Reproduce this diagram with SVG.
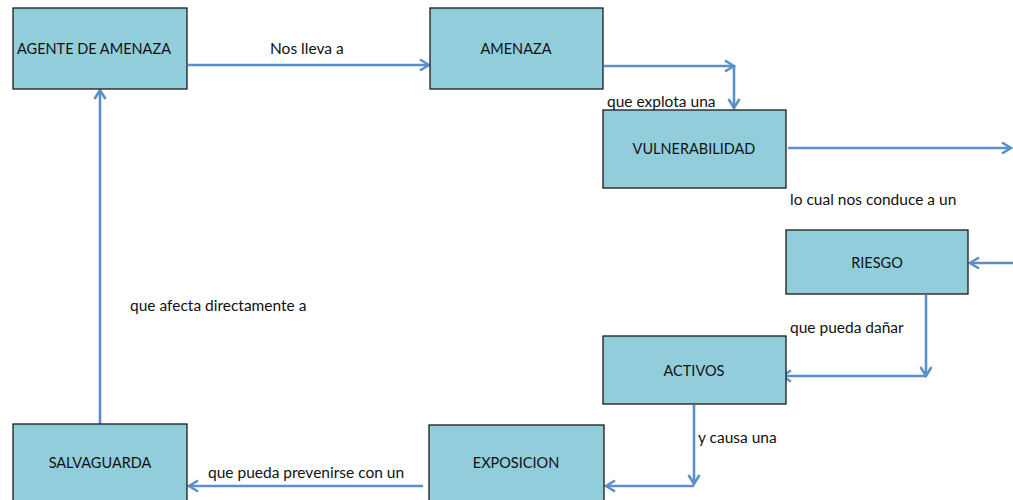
<svg xmlns="http://www.w3.org/2000/svg" width="1013" height="500" viewBox="0 0 1013 500">
<style>
.box{fill:#92CDDC;stroke:#1a1a1a;stroke-width:1.3}
.t{font-family:Lato,"Liberation Sans",sans-serif;font-size:14.5px;fill:#111;text-anchor:middle;dominant-baseline:central}
.l{font-family:Lato,"Liberation Sans",sans-serif;font-size:15.5px;fill:#111;dominant-baseline:central}
.c{fill:none;stroke:#5B8FC8;stroke-width:2.6}
</style>
<defs>
<marker id="a" viewBox="0 0 14 14" refX="12" refY="7" markerWidth="14" markerHeight="14" markerUnits="userSpaceOnUse" orient="auto">
<path d="M3,1.5 L12,7 L3,12.5" fill="none" stroke="#5B8FC8" stroke-width="2.5"/>
</marker>
</defs>
<rect width="1013" height="500" fill="#fff"/>
<g id="connectors">
<line class="c" x1="188" y1="65" x2="429" y2="65" marker-end="url(#a)"/>
<line class="c" x1="604" y1="66" x2="734" y2="66" marker-end="url(#a)"/>
<line class="c" x1="734" y1="66" x2="734" y2="108" marker-end="url(#a)"/>
<line class="c" x1="788" y1="148" x2="1011" y2="148" marker-end="url(#a)"/>
<line class="c" x1="1013" y1="263" x2="970" y2="263" marker-end="url(#a)"/>
<line class="c" x1="926" y1="295" x2="926" y2="376" marker-end="url(#a)"/>
<line class="c" x1="926" y1="376" x2="782" y2="376" marker-end="url(#a)"/>
<line class="c" x1="694" y1="405" x2="694" y2="484" marker-end="url(#a)"/>
<line class="c" x1="694" y1="486" x2="606" y2="486" marker-end="url(#a)"/>
<line class="c" x1="423" y1="486" x2="189" y2="486" marker-end="url(#a)"/>
<line class="c" x1="100" y1="424" x2="100" y2="90" marker-end="url(#a)"/>
<text class="l" x="270" y="48">Nos lleva a</text>
<text class="l" x="607" y="101">que explota una</text>
<text class="l" x="790" y="199">lo cual nos conduce a un</text>
<text class="l" x="790" y="327">que pueda dañar</text>
<text class="l" x="698" y="437">y causa una</text>
<text class="l" x="208" y="472">que pueda prevenirse con un</text>
<text class="l" x="130" y="305">que afecta directamente a</text>
</g>
<g id="agente"><rect class="box" x="13" y="8" width="174" height="81"/><text class="t" x="17" y="48" style="text-anchor:start">AGENTE DE AMENAZA</text></g>
<g id="amenaza"><rect class="box" x="430" y="8" width="173" height="81"/><text class="t" x="516" y="48">AMENAZA</text></g>
<g id="vulnerabilidad"><rect class="box" x="603" y="110" width="183" height="78"/><text class="t" x="694" y="148">VULNERABILIDAD</text></g>
<g id="riesgo"><rect class="box" x="786" y="230" width="182" height="64"/><text class="t" x="877" y="262">RIESGO</text></g>
<g id="activos"><rect class="box" x="603" y="336" width="183" height="68"/><text class="t" x="694" y="370">ACTIVOS</text></g>
<g id="exposicion"><rect class="box" x="429" y="425" width="175" height="80"/><text class="t" x="516" y="462">EXPOSICION</text></g>
<g id="salvaguarda"><rect class="box" x="13" y="424" width="174" height="81"/><text class="t" x="100" y="462">SALVAGUARDA</text></g>
</svg>
